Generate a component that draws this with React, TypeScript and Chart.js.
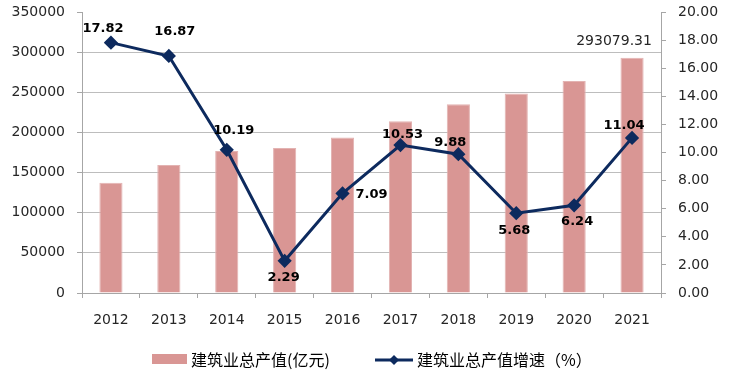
import React, { useEffect, useRef } from "react";
import { Chart, registerables } from "chart.js";

Chart.register(...registerables);

const categories = ["2012", "2013", "2014", "2015", "2016", "2017", "2018", "2019", "2020", "2021"];
const outputValues = [137217.86, 159312.95, 176713.42, 180757.47, 193566.78, 213943.56, 235085.53, 248445.77, 263947.04, 293079.31];
const growthValues = [17.82, 16.87, 10.19, 2.29, 7.09, 10.53, 9.88, 5.68, 6.24, 11.04];
const barLabel = "建筑业总产值(亿元)";
const lineLabel = "建筑业总产值增速（%）";

// label offsets (style) relative to each point
const growthLabelOffsets: [number, number][] = [
  [-8, -14], [6, -24], [7, -19], [-1, 17], [29, 1],
  [2, -10], [-8, -12], [-2, 17], [3, 16], [-8, -12],
];

const BAR_COLOR = "#d99694";
const LINE_COLOR = "#0d2a5e";
const AXIS_COLOR = "#a6a6a6";
const GRID_COLOR = "#bdbdbd";
const TEXT_COLOR = "#262626";
const FONT = '"DejaVu Sans", Verdana, sans-serif';
const CJK = '"Noto Sans CJK SC", sans-serif';

const labelPlugin = {
  id: "customLabels",
  afterDatasetsDraw(chart: any) {
    const ctx = chart.ctx;
    ctx.save();
    ctx.textAlign = "center";
    ctx.textBaseline = "middle";
    ctx.fillStyle = "#000";
    ctx.font = `bold 13px ${FONT}`;
    const lineMeta = chart.getDatasetMeta(1);
    lineMeta.data.forEach((pt: any, i: number) => {
      const off = growthLabelOffsets[i] || [0, -14];
      ctx.fillText(growthValues[i].toFixed(2), pt.x + off[0], pt.y + off[1]);
    });
    const barMeta = chart.getDatasetMeta(0);
    const last = barMeta.data[barMeta.data.length - 1];
    ctx.font = `14px ${FONT}`;
    ctx.fillStyle = TEXT_COLOR;
    ctx.fillText(outputValues[outputValues.length - 1].toFixed(2), last.x - 18, last.y - 16);
    ctx.restore();
  },
  afterDraw(chart: any) {
    const ctx = chart.ctx;
    ctx.save();
    // bar legend
    ctx.fillStyle = BAR_COLOR;
    ctx.fillRect(152, 354, 35, 10);
    ctx.fillStyle = "#000";
    ctx.font = `16px ${CJK}`;
    ctx.textAlign = "left";
    ctx.textBaseline = "middle";
    ctx.fillText(barLabel, 191, 360);
    // line legend
    ctx.strokeStyle = LINE_COLOR;
    ctx.lineWidth = 3;
    ctx.beginPath();
    ctx.moveTo(375, 360);
    ctx.lineTo(413, 360);
    ctx.stroke();
    ctx.fillStyle = LINE_COLOR;
    ctx.beginPath();
    ctx.moveTo(394, 355);
    ctx.lineTo(399, 360);
    ctx.lineTo(394, 365);
    ctx.lineTo(389, 360);
    ctx.closePath();
    ctx.fill();
    ctx.fillStyle = "#000";
    ctx.fillText(lineLabel, 417, 360);
    ctx.restore();
  },
};

export default function App() {
  const ref = useRef<HTMLCanvasElement | null>(null);
  useEffect(() => {
    document.body.style.margin = "0";
    const canvas = ref.current;
    if (!canvas) return;
    const chart = new Chart(canvas, {
      type: "bar",
      data: {
        labels: categories,
        datasets: [
          {
            type: "bar",
            label: barLabel,
            data: outputValues,
            backgroundColor: BAR_COLOR,
            borderColor: "#e3b3b2",
            borderWidth: 1,
            barPercentage: 0.8,
            categoryPercentage: 0.5,
            yAxisID: "y",
            order: 2,
          } as any,
          {
            type: "line",
            label: lineLabel,
            data: growthValues,
            borderColor: LINE_COLOR,
            backgroundColor: LINE_COLOR,
            borderWidth: 3,
            pointStyle: "rectRot",
            pointRadius: 5,
            pointBackgroundColor: LINE_COLOR,
            pointBorderColor: LINE_COLOR,
            tension: 0,
            yAxisID: "y1",
            order: 1,
          } as any,
        ],
      },
      options: {
        responsive: false,
        animation: false,
        devicePixelRatio: 1,
        layout: { padding: { top: 12, left: 0, right: 0, bottom: 0 } },
        plugins: {
          legend: { display: false },
          tooltip: { enabled: false },
        },
        scales: {
          x: {
            offset: true,
            grid: {
              offset: true,
              drawOnChartArea: false,
              drawTicks: true,
              tickLength: 5,
              tickColor: AXIS_COLOR,
              color: AXIS_COLOR,
            },
            border: { display: true, color: AXIS_COLOR },
            ticks: { color: TEXT_COLOR, font: { family: FONT, size: 14 }, padding: 14, maxRotation: 0 },
            afterFit(scale: any) {
              scale.height = 95;
              scale.paddingLeft = 0;
              scale.paddingRight = 0;
            },
          },
          y: {
            position: "left",
            min: 0,
            max: 350000,
            grid: {
              color: (c: any) => (c.tick && c.tick.value === 350000 ? "rgba(0,0,0,0)" : GRID_COLOR),
              tickColor: AXIS_COLOR,
              tickLength: 5,
            },
            border: { display: true, color: AXIS_COLOR },
            ticks: {
              stepSize: 50000,
              color: TEXT_COLOR,
              font: { family: FONT, size: 14 },
              padding: 12,
              callback: (v: any) => String(v),
            },
            afterFit(scale: any) {
              scale.width = 82;
              scale.paddingTop = 0;
              scale.paddingBottom = 0;
            },
          },
          y1: {
            position: "right",
            min: 0,
            max: 20,
            grid: { drawOnChartArea: false, tickColor: AXIS_COLOR, tickLength: 5 },
            border: { display: true, color: AXIS_COLOR },
            ticks: {
              stepSize: 2,
              color: TEXT_COLOR,
              font: { family: FONT, size: 14 },
              padding: 12,
              callback: (v: any) => Number(v).toFixed(2),
            },
            afterFit(scale: any) {
              scale.width = 91;
              scale.paddingTop = 0;
              scale.paddingBottom = 0;
            },
          },
        },
      },
      plugins: [labelPlugin],
    } as any);
    return () => chart.destroy();
  }, []);
  return (
    <div style={{ width: 752, height: 388, background: "#fff" }}>
      <canvas ref={ref} width={752} height={388} style={{ display: "block" }} />
    </div>
  );
}
